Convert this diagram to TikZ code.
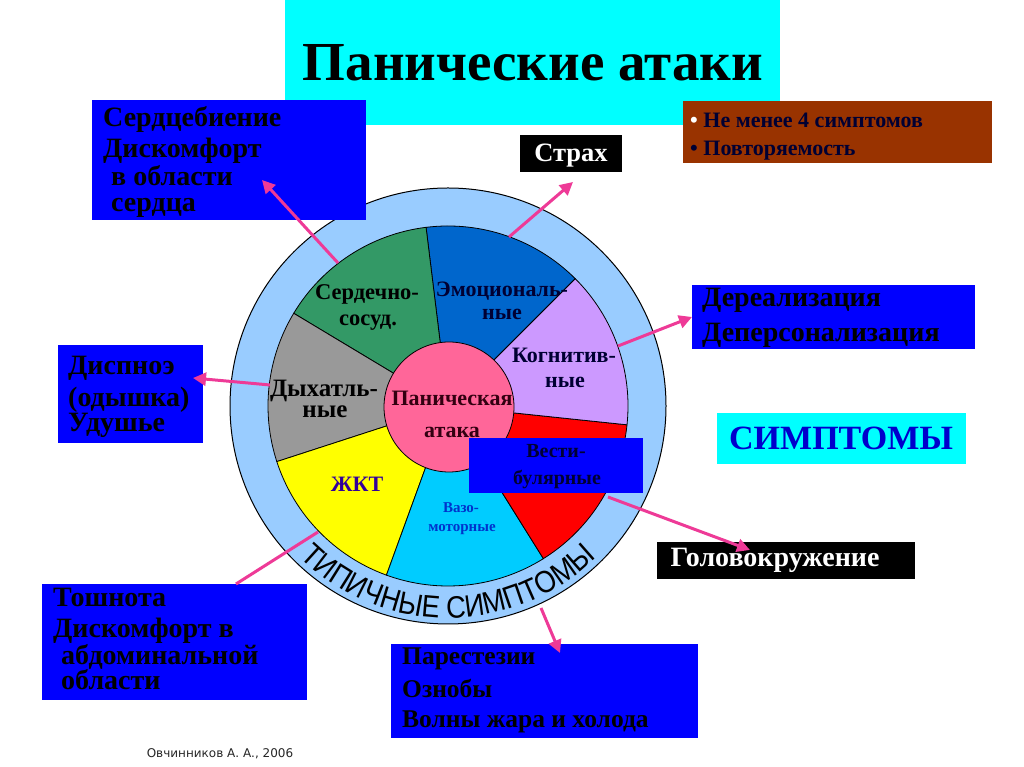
\documentclass[tikz,border=0pt]{standalone}
\usepackage{fontspec}
\setmainfont{Liberation Serif}
\newfontfamily\ringfont[FakeStretch=0.88]{Liberation Sans}
\newfontfamily\dejavufont{DejaVu Sans}
\usetikzlibrary{arrows.meta,decorations.text,calc}
\definecolor{boxblue}{HTML}{0000FF}
\definecolor{titlecyan}{HTML}{00FFFF}
\definecolor{brownbox}{HTML}{993300}
\definecolor{ringblue}{HTML}{99CCFF}
\definecolor{segemo}{HTML}{0066CC}
\definecolor{segcard}{HTML}{339966}
\definecolor{seggray}{HTML}{999999}
\definecolor{segyellow}{HTML}{FFFF00}
\definecolor{segvaso}{HTML}{00CCFF}
\definecolor{segred}{HTML}{FF0000}
\definecolor{seglav}{HTML}{CC99FF}
\definecolor{centerpink}{HTML}{FF6699}
\definecolor{arrowpink}{HTML}{EE3A97}
\definecolor{darknavy}{HTML}{000033}
\definecolor{symnavy}{HTML}{0000CC}
\definecolor{gktcol}{HTML}{330099}
\definecolor{vasocol}{HTML}{0033CC}
\definecolor{panicol}{HTML}{330011}
\newcommand\fsz[1]{\fontsize{#1}{#1}\selectfont\bfseries}
\tikzset{
  boxnode/.style={anchor=north west, inner sep=0pt, outer sep=0pt, draw=none},
  txt/.style={inner sep=0pt, anchor=base west},
  ctxt/.style={inner sep=0pt, anchor=base},
  seg/.style={draw=black, line width=0.8pt},
  arr/.style={draw=arrowpink, line width=3pt, -{Triangle[length=13pt,width=13pt]}},
  arrnohead/.style={draw=arrowpink, line width=3pt}
}
\begin{document}
\begin{tikzpicture}[x=1pt,y=1pt]
\useasboundingbox (0,0) rectangle (1024,767);
\fill[white] (0,0) rectangle (1024,767);

% title
\node[boxnode, fill=titlecyan, minimum width=495pt, minimum height=125pt] (titlebox) at (285,767) {};
\node[ctxt, font=\fsz{55}] (title) at (533,686) {Панические атаки};

% wheel
\coordinate (C) at (448,361);
\filldraw[fill=ringblue, draw=black, line width=1pt] (C) circle[radius=218];
\filldraw[seg, fill=segemo]    (C) -- ($(C)+(45:180)$)  arc[start angle=45,  end angle=97,  radius=180] -- cycle;
\filldraw[seg, fill=segcard]   (C) -- ($(C)+(97:180)$)  arc[start angle=97,  end angle=149, radius=180] -- cycle;
\filldraw[seg, fill=seggray]   (C) -- ($(C)+(149:180)$) arc[start angle=149, end angle=198, radius=180] -- cycle;
\filldraw[seg, fill=segyellow] (C) -- ($(C)+(198:180)$) arc[start angle=198, end angle=250, radius=180] -- cycle;
\filldraw[seg, fill=segvaso]   (C) -- ($(C)+(250:180)$) arc[start angle=250, end angle=302, radius=180] -- cycle;
\filldraw[seg, fill=segred]    (C) -- ($(C)+(302:180)$) arc[start angle=302, end angle=354, radius=180] -- cycle;
\filldraw[seg, fill=seglav]    (C) -- ($(C)+(354:180)$) arc[start angle=354, end angle=405, radius=180] -- cycle;
\filldraw[seg, fill=centerpink] (449,360) circle[radius=65];

% ring text
\path[decorate, decoration={text along path, text align=center,
  text={|\ringfont\fontsize{31}{31}\selectfont|ТИПИЧНЫЕ СИМПТОМЫ}}]
  ($(C)+(222:212)$) arc[start angle=222, end angle=318, radius=212];

% segment labels
\node[ctxt, font=\fsz{22.5}] (card1) at (367,467) {Сердечно-};
\node[ctxt, font=\fsz{22.5}] (card2) at (368,441) {сосуд.};
\node[ctxt, font=\fsz{22}, text=darknavy] (emo1) at (502,470) {Эмоциональ-};
\node[ctxt, font=\fsz{22}, text=darknavy] (emo2) at (502,447) {ные};
\node[ctxt, font=\fsz{22}, text=darknavy] (cog1) at (564,404) {Когнитив-};
\node[ctxt, font=\fsz{22}, text=darknavy] (cog2) at (565,379) {ные};
\node[ctxt, font=\fsz{25}] (breath1) at (324,370) {Дыхатль-};
\node[ctxt, font=\fsz{25}] (breath2) at (325,349) {ные};
\node[ctxt, font=\fsz{22}, text=panicol] (pan1) at (452,361) {Паническая};
\node[ctxt, font=\fsz{22}, text=panicol] (pan2) at (452,329) {атака};
\node[ctxt, font=\fsz{22}, text=gktcol] (gkt) at (357,275) {ЖКТ};
\node[ctxt, font=\fsz{15}, text=vasocol] (vaso1) at (461,254) {Вазо-};
\node[ctxt, font=\fsz{15}, text=vasocol] (vaso2) at (462,235) {моторные};

% vestibular box
\node[boxnode, fill=boxblue, minimum width=174pt, minimum height=55pt] (vestbox) at (469,329) {};
\node[ctxt, font=\fsz{20}, text=darknavy] (vest1) at (556,309) {Вести-};
\node[ctxt, font=\fsz{20}, text=darknavy] (vest2) at (557,282) {булярные};

% boxes
\node[boxnode, fill=boxblue, minimum width=274pt, minimum height=120pt] (heartbox) at (92,667) {};
\node[txt, font=\fsz{28}] (heart1) at (103,640) {Сердцебиение};
\node[txt, font=\fsz{28}] (heart2) at (103,609) {Дискомфорт};
\node[txt, font=\fsz{28}] (heart3) at (111,581) {в области};
\node[txt, font=\fsz{28}] (heart4) at (111,555) {сердца};

\node[boxnode, fill=brownbox, minimum width=309pt, minimum height=62pt] (brownb) at (683,666) {};
\node[txt, font=\fsz{22}, text=darknavy] (br1) at (690,639) {\textcolor{white}{•} Не менее 4 симптомов};
\node[txt, font=\fsz{22}, text=darknavy] (br2) at (690,611) {• Повторяемость};

\node[boxnode, fill=black, minimum width=102pt, minimum height=37pt] (fearbox) at (520,632) {};
\node[ctxt, font=\fsz{26.5}, text=white] (fear) at (571,605) {Страх};

\node[boxnode, fill=boxblue, minimum width=283pt, minimum height=64pt] (derealbox) at (692,482) {};
\node[txt, font=\fsz{28}] (der1) at (702,460) {Дереализация};
\node[txt, font=\fsz{28}] (der2) at (702,425) {Деперсонализация};

\node[boxnode, fill=titlecyan, minimum width=249pt, minimum height=51pt] (symbox) at (717,354) {};
\node[ctxt, font=\fsz{34}, text=symnavy] (sym) at (841,317) {СИМПТОМЫ};

\node[boxnode, fill=black, minimum width=258pt, minimum height=37pt] (dizzybox) at (657,225) {};
\node[ctxt, font=\fsz{28}, text=white] (dizzy) at (775,200) {Головокружение};

\node[boxnode, fill=boxblue, minimum width=145pt, minimum height=98pt] (dyspbox) at (58,422) {};
\node[txt, font=\fsz{28}] (dy1) at (68,392) {Диспноэ};
\node[txt, font=\fsz{28}] (dy2) at (68,360) {(одышка)};
\node[txt, font=\fsz{28}] (dy3) at (68,335) {Удушье};

\node[boxnode, fill=boxblue, minimum width=265pt, minimum height=116pt] (gutbox) at (42,183) {};
\node[txt, font=\fsz{28}] (gut1) at (53,160) {Тошнота};
\node[txt, font=\fsz{28}] (gut2) at (53,129) {Дискомфорт в};
\node[txt, font=\fsz{28}] (gut3) at (61,102) {абдоминальной};
\node[txt, font=\fsz{28}] (gut4) at (61,77) {области};

\node[boxnode, fill=boxblue, minimum width=307pt, minimum height=94pt] (paresbox) at (391,123) {};
\node[txt, font=\fsz{25.5}] (par1) at (402,102) {Парестезии};
\node[txt, font=\fsz{25.5}] (par2) at (402,69) {Ознобы};
\node[txt, font=\fsz{25.5}] (par3) at (402,39) {Волны жара и холода};

\node[ctxt, font=\dejavufont\fontsize{12}{12}\selectfont, text=black!85] (footer) at (220,9) {Овчинников А. А., 2006};

% arrows
\coordinate (a1s) at (338,504); \coordinate (a1t) at (262,587);
\coordinate (a2s) at (509,530); \coordinate (a2t) at (573,585);
\coordinate (a3s) at (618,421); \coordinate (a3t) at (692,450);
\coordinate (a4s) at (270,382); \coordinate (a4t) at (193,389);
\coordinate (a5s) at (318,235); \coordinate (a5t) at (236,183);
\coordinate (a6s) at (541,159); \coordinate (a6t) at (560,114);
\coordinate (a7s) at (608,270); \coordinate (a7t) at (750,217);
\draw[arr] (a1s) -- (a1t);
\draw[arr] (a2s) -- (a2t);
\draw[arr] (a3s) -- (a3t);
\draw[arr] (a4s) -- (a4t);
\draw[arrnohead] (a5s) -- (a5t);
\draw[arr] (a6s) -- (a6t);
\draw[arr] (a7s) -- (a7t);
\end{tikzpicture}
\end{document}
